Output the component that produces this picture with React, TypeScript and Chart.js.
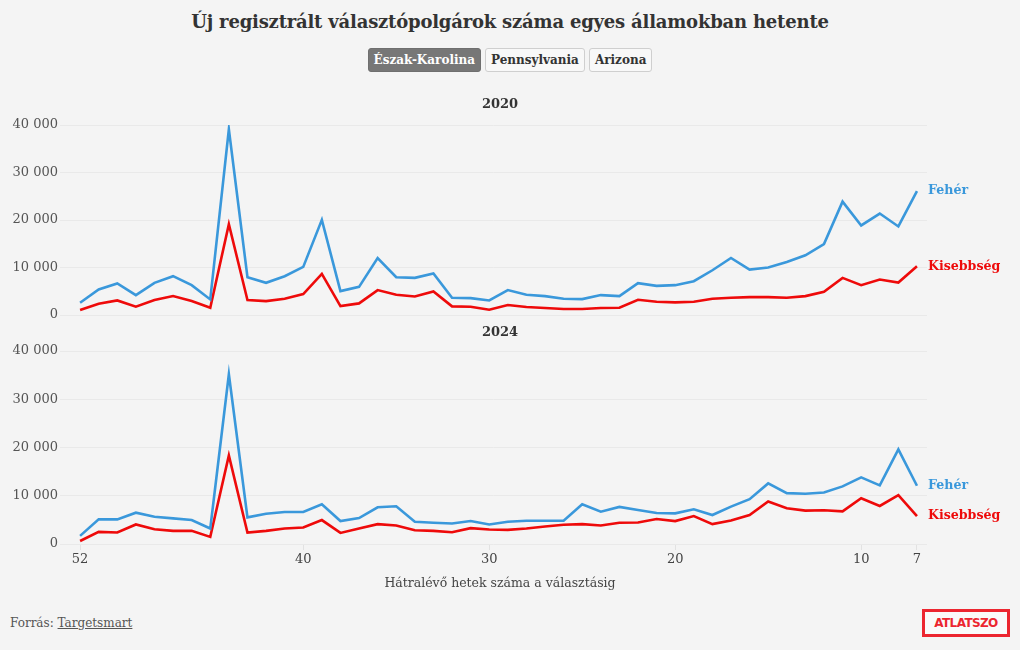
import React, { useEffect, useRef } from "react";
import { Chart, registerables } from "chart.js";

Chart.register(...registerables);

const weeks = [52, 51, 50, 49, 48, 47, 46, 45, 44, 43, 42, 41, 40, 39, 38, 37, 36, 35, 34, 33, 32, 31, 30, 29, 28, 27, 26, 25, 24, 23, 22, 21, 20, 19, 18, 17, 16, 15, 14, 13, 12, 11, 10, 9, 8, 7];
const xTickValues = [52, 40, 30, 20, 10, 7];
const yTickValues = [0, 10000, 20000, 30000, 40000];

const white2020 = [2580, 5370, 6630, 4190, 6770, 8170, 6280, 3280, 39090, 7960, 6770, 8170, 10120, 20030, 5030, 5930, 12000, 7960, 7820, 8730, 3630, 3560, 3070, 5240, 4260, 3980, 3420, 3350, 4190, 3980, 6700, 6140, 6280, 7120, 9420, 12000, 9560, 9980, 11170, 12560, 14940, 23870, 18850, 21360, 18640, 26100];
const minority2020 = [1050, 2370, 3070, 1750, 3140, 3980, 2930, 1540, 19130, 3140, 2930, 3420, 4400, 8660, 1880, 2440, 5240, 4260, 3910, 4960, 1820, 1750, 1100, 2090, 1680, 1470, 1260, 1260, 1470, 1540, 3210, 2790, 2650, 2790, 3420, 3630, 3770, 3770, 3630, 3980, 4890, 7820, 6280, 7470, 6840, 10260];
const white2024 = [1680, 5100, 5100, 6490, 5650, 5310, 4960, 3210, 35180, 5520, 6280, 6630, 6630, 8240, 4750, 5370, 7610, 7820, 4610, 4400, 4260, 4750, 4050, 4610, 4820, 4820, 4820, 8240, 6700, 7680, 7050, 6420, 6350, 7190, 6000, 7750, 9280, 12560, 10540, 10400, 10680, 11940, 13820, 12150, 19610, 12070];
const minority2024 = [630, 2510, 2370, 4050, 3070, 2720, 2720, 1470, 18360, 2370, 2720, 3210, 3420, 4960, 2300, 3210, 4120, 3840, 2860, 2720, 2440, 3280, 3000, 2930, 3210, 3630, 3980, 4120, 3840, 4400, 4470, 5170, 4750, 5790, 4120, 4890, 6000, 8800, 7400, 6910, 6980, 6770, 9490, 7890, 10120, 5790];

const seriesNames = ["Fehér", "Kisebbség"];
const states = ["Észak-Karolina", "Pennsylvania", "Arizona"];

const BLUE = "#3a98db";
const RED = "#ee0a0a";
const FONT = "'DejaVu Serif', serif";

const fmt = (v: number) => String(v).replace(/\B(?=(\d{3})+(?!\d))/g, " ");

const endLabels = {
  id: "endLabels",
  afterDatasetsDraw(chart: any) {
    const ctx = chart.ctx;
    ctx.save();
    ctx.font = `bold 12.6px ${FONT}`;
    ctx.textBaseline = "middle";
    ctx.textAlign = "left";
    chart.data.datasets.forEach((ds: any, i: number) => {
      const meta = chart.getDatasetMeta(i);
      const last = meta.data[meta.data.length - 1];
      if (!last) return;
      ctx.fillStyle = ds.borderColor;
      ctx.fillText(ds.label, last.x + 11, last.y);
    });
    ctx.restore();
  },
};

function makeConfig(white: number[], minority: number[], showX: boolean, padTop: number, padBottom: number) {
  return {
    type: "line" as const,
    data: {
      datasets: [
        {
          label: seriesNames[0],
          data: weeks.map((w, i) => ({ x: w, y: white[i] })),
          borderColor: BLUE,
          borderWidth: 2.6,
          pointRadius: 0,
          tension: 0,
        },
        {
          label: seriesNames[1],
          data: weeks.map((w, i) => ({ x: w, y: minority[i] })),
          borderColor: RED,
          borderWidth: 2.6,
          pointRadius: 0,
          tension: 0,
        },
      ],
    },
    options: {
      animation: false as const,
      responsive: false,
      layout: { padding: { top: padTop, bottom: padBottom, left: 0, right: 93 } },
      plugins: { legend: { display: false }, tooltip: { enabled: false }, title: { display: false } },
      scales: {
        x: {
          type: "linear" as const,
          reverse: true,
          min: 6.46,
          max: 53.08,
          display: showX,
          afterBuildTicks: (scale: any) => {
            scale.ticks = xTickValues.map((v) => ({ value: v }));
          },
          afterFit: (scale: any) => {
            if (showX) scale.height = 56;
          },
          grid: { drawOnChartArea: false, drawTicks: true, tickLength: 6, color: "#e2e2e2" },
          border: { display: false },
          ticks: {
            autoSkip: false,
            maxRotation: 0,
            padding: 2,
            color: "#444",
            font: { family: FONT, size: 13 },
            callback: (v: any) => String(v),
          },
        },
        y: {
          min: 0,
          max: 40000,
          afterBuildTicks: (scale: any) => {
            scale.ticks = yTickValues.map((v) => ({ value: v }));
          },
          afterFit: (scale: any) => {
            scale.width = 60;
          },
          grid: { color: "#e9e9e9", drawTicks: false, lineWidth: 1 },
          border: { display: false },
          ticks: {
            padding: 2,
            color: "#555",
            font: { family: FONT, size: 13 },
            callback: (v: any) => fmt(Number(v)),
          },
        },
      },
    },
    plugins: [endLabels],
  };
}

function Panel({ white, minority, showX, top, height, padTop, padBottom }: any) {
  const ref = useRef<HTMLCanvasElement | null>(null);
  useEffect(() => {
    if (!ref.current) return;
    const chart = new Chart(ref.current, makeConfig(white, minority, showX, padTop, padBottom) as any);
    return () => chart.destroy();
  }, []);
  return (
    <canvas
      ref={ref}
      width={1020}
      height={height}
      style={{ position: "absolute", left: 0, top, width: 1020, height }}
    />
  );
}

export default function App() {
  const btnBase: React.CSSProperties = {
    height: 24,
    boxSizing: "border-box",
    padding: "0 5px",
    fontFamily: FONT,
    fontWeight: "bold",
    fontSize: 12,
    lineHeight: "22px",
    borderRadius: 3,
    margin: "0 2px",
  };
  return (
    <div
      style={{
        position: "absolute",
        left: 0,
        top: 0,
        width: 1020,
        height: 650,
        background: "#f4f4f4",
        fontFamily: FONT,
        overflow: "hidden",
      }}
    >
      <div
        style={{
          position: "absolute",
          left: 0,
          width: 1020,
          top: 10,
          height: 24,
          lineHeight: "24px",
          textAlign: "center",
          fontWeight: "bold",
          fontSize: 18,
          letterSpacing: -0.2,
          color: "#333",
        }}
      >
        Új regisztrált választópolgárok száma egyes államokban hetente
      </div>
      <div style={{ position: "absolute", left: 0, width: 1020, top: 48, display: "flex", justifyContent: "center" }}>
        {states.map((s, i) => (
          <div
            key={s}
            style={{
              ...btnBase,
              background: i === 0 ? "#777" : "#f8f8f8",
              color: i === 0 ? "#fff" : "#333",
              border: i === 0 ? "1px solid #6f6f6f" : "1px solid #cfcfcf",
            }}
          >
            {s}
          </div>
        ))}
      </div>
      <Panel white={white2020} minority={minority2020} showX={false} top={96} height={230} padTop={29} padBottom={11} />
      <Panel white={white2024} minority={minority2024} showX={true} top={325} height={275} padTop={26} padBottom={0} />
      {["2020", "2024"].map((t, i) => (
        <div
          key={t}
          style={{
            position: "absolute",
            left: 400,
            width: 200,
            top: i === 0 ? 96 : 324,
            height: 16,
            lineHeight: "16px",
            textAlign: "center",
            fontWeight: "bold",
            fontSize: 13,
            color: "#333",
          }}
        >
          {t}
        </div>
      ))}
      <div
        style={{
          position: "absolute",
          left: 300,
          width: 400,
          top: 575,
          height: 16,
          lineHeight: "16px",
          textAlign: "center",
          fontSize: 12.5,
          color: "#444",
        }}
      >
        Hátralévő hetek száma a választásig
      </div>
      <div
        style={{ position: "absolute", left: 10, top: 615, height: 16, lineHeight: "16px", fontSize: 12, color: "#555" }}
      >
        Forrás: <span style={{ textDecoration: "underline" }}>Targetsmart</span>
      </div>
      <div
        style={{
          position: "absolute",
          left: 922,
          top: 609,
          width: 88,
          height: 28,
          boxSizing: "border-box",
          border: "3px solid #ec2630",
          background: "#fafafa",
          color: "#ec2630",
          fontFamily: "'DejaVu Sans', sans-serif",
          fontWeight: "bold",
          fontSize: 12,
          letterSpacing: -0.6,
          lineHeight: "22px",
          textAlign: "center",
        }}
      >
        ATLATSZO
      </div>
    </div>
  );
}
